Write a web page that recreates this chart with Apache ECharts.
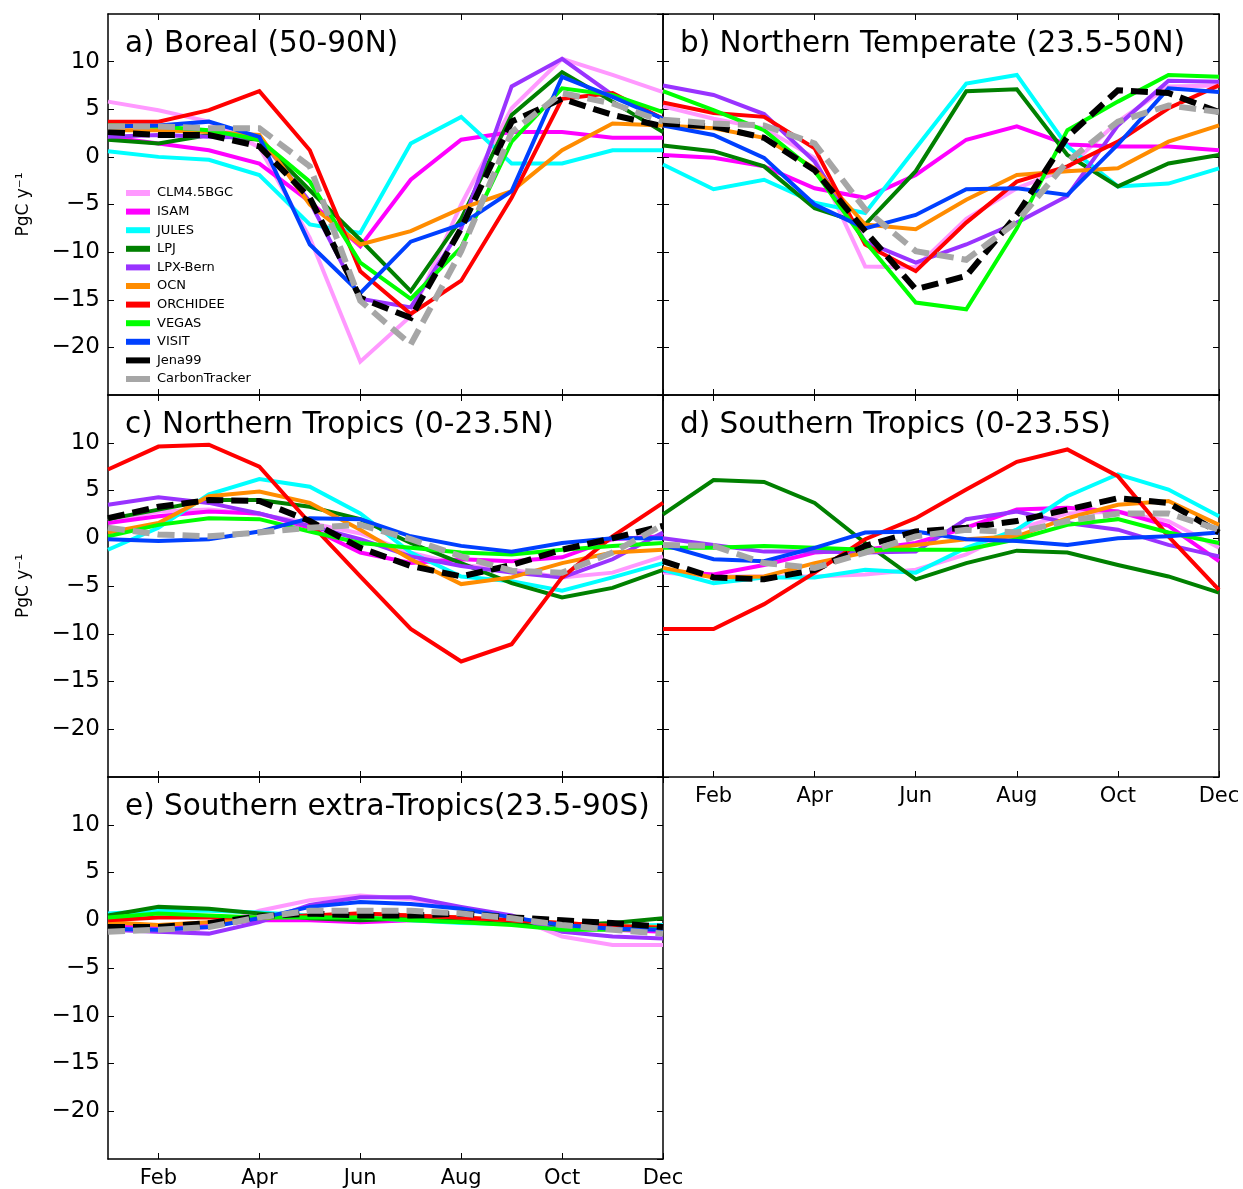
<!DOCTYPE html>
<html><head><meta charset="utf-8">
<script src="https://cdn.jsdelivr.net/npm/echarts@6/dist/echarts.min.js"></script>
<style>html,body{margin:0;padding:0;background:#fff}#c{width:1243px;height:1189px}</style>
</head><body><div id="c"></div>
<script>
const months = ['Jan','Feb','Mar','Apr','May','Jun','Jul','Aug','Sep','Oct','Nov','Dec'];
const models = ['CLM4.5BGC','ISAM','JULES','LPJ','LPX-Bern','OCN','ORCHIDEE','VEGAS','VISIT','Jena99','CarbonTracker'];
const panelTitles = ['a) Boreal (50-90N)','b) Northern Temperate (23.5-50N)','c) Northern Tropics (0-23.5N)','d) Southern Tropics (0-23.5S)','e) Southern extra-Tropics(23.5-90S)'];
const yTicks = [-25,-20,-15,-10,-5,0,5,10,15];

// a) Boreal
const a_CLM = [5.8, 4.9, 3.7, 1.0, -8.5, -21.5, -16.7, -5.0, 5.1, 10.3, 8.6, 6.8];
const a_ISAM = [2.1, 1.4, 0.7, -0.7, -4.7, -9.4, -2.4, 1.8, 2.6, 2.6, 2.0, 2.0];
const a_JULES = [0.6, 0.0, -0.3, -1.9, -7.1, -8.0, 1.4, 4.2, -0.7, -0.7, 0.7, 0.7];
const a_LPJ = [1.8, 1.4, 2.3, 1.8, -3.5, -8.7, -14.1, -6.5, 4.4, 8.9, 5.8, 2.6];
const a_LPX = [2.1, 2.3, 2.1, 2.0, -4.7, -14.9, -15.8, -7.5, 7.4, 10.3, 6.5, 4.0];
const a_OCN = [2.8, 2.8, 2.6, 2.3, -5.0, -9.2, -7.8, -5.4, -3.6, 0.7, 3.5, 3.3];
const a_ORC = [3.7, 3.7, 4.9, 6.9, 0.7, -12.0, -16.5, -13.0, -4.3, 6.1, 6.7, 4.0];
const a_VEGAS = [3.3, 3.2, 2.8, 1.8, -2.6, -11.1, -14.9, -9.5, 1.6, 7.2, 6.5, 4.7];
const a_VISIT = [3.2, 3.3, 3.7, 2.1, -9.2, -14.3, -8.9, -7.1, -3.6, 8.4, 6.3, 4.0];
const a_JENA = [2.6, 2.3, 2.3, 1.1, -4.3, -14.8, -16.9, -7.5, 3.7, 6.1, 4.4, 3.2];
const a_CT = [3.2, 3.2, 3.0, 3.0, -1.0, -15.1, -19.7, -9.9, 2.6, 6.7, 5.6, 3.7];

// b) Northern Temperate
const b_CLM = [5.3, 4.0, 3.0, -0.1, -11.5, -11.6, -6.5, -3.3, -1.2, 3.7, 7.4, 7.5];
const b_ISAM = [0.2, -0.1, -1.0, -3.3, -4.3, -1.9, 1.8, 3.2, 1.3, 1.1, 1.1, 0.7];
const b_JULES = [-0.8, -3.4, -2.4, -4.8, -5.9, 0.9, 7.7, 8.6, 1.1, -3.1, -2.8, -1.2];
const b_LPJ = [1.2, 0.6, -1.0, -5.4, -7.1, -1.5, 6.9, 7.1, 0.2, -3.1, -0.7, 0.2];
const b_LPX = [7.5, 6.5, 4.5, -0.5, -8.9, -11.1, -9.2, -6.9, -4.1, 3.3, 8.0, 7.9];
const b_OCN = [3.3, 3.0, 2.0, -1.2, -7.1, -7.6, -4.5, -1.9, -1.5, -1.2, 1.6, 3.3];
const b_ORC = [5.7, 4.6, 4.2, 0.9, -9.2, -12.0, -6.9, -2.6, -1.0, 1.6, 5.1, 7.5];
const b_VEGAS = [6.9, 4.9, 2.8, -1.5, -8.9, -15.3, -16.0, -7.5, 2.8, 5.8, 8.6, 8.4];
const b_VISIT = [3.3, 2.3, -0.1, -5.0, -7.5, -6.1, -3.4, -3.3, -4.0, 1.3, 7.2, 6.8];
const b_JENA = [3.5, 3.2, 2.0, -1.4, -7.8, -13.9, -12.5, -6.1, 2.1, 7.0, 6.7, 4.7];
const b_CT = [3.9, 3.5, 3.3, 1.4, -5.5, -9.9, -10.8, -6.8, -0.5, 3.7, 5.4, 4.7];

// c) Northern Tropics
const c_CLM = [1.8, 2.8, 3.0, 2.5, 1.6, 0.5, -1.5, -2.8, -3.3, -4.1, -3.6, -1.9];
const c_ISAM = [1.6, 2.3, 2.8, 2.6, 1.1, -1.5, -2.6, -2.2, -2.4, -2.0, -0.1, 0.2];
const c_JULES = [-1.2, 1.1, 4.6, 6.2, 5.4, 2.6, -1.5, -4.0, -4.5, -5.5, -4.1, -2.6];
const c_LPJ = [2.0, 3.0, 4.0, 4.0, 3.3, 2.0, -0.5, -2.6, -4.7, -6.2, -5.2, -3.3];
const c_LPX = [3.5, 4.3, 3.7, 2.6, 1.3, -0.1, -1.9, -2.9, -3.6, -4.1, -2.2, 0.6];
const c_OCN = [0.6, 1.6, 4.4, 4.9, 3.7, 0.9, -2.2, -4.8, -4.1, -2.6, -1.5, -1.2];
const c_ORC = [7.2, 9.6, 9.8, 7.5, 1.6, -4.0, -9.5, -12.9, -11.1, -4.1, 0.2, 3.7];
const c_VEGAS = [0.2, 1.4, 2.1, 2.0, 0.7, -0.5, -1.0, -1.5, -1.7, -1.2, -0.8, -0.5];
const c_VISIT = [-0.1, -0.3, -0.1, 0.7, 2.1, 2.0, 0.2, -0.8, -1.4, -0.5, 0.0, 0.0];
const c_JENA = [2.1, 3.3, 4.0, 3.9, 1.8, -1.0, -2.9, -4.0, -2.8, -1.2, 0.0, 1.3];
const c_CT = [1.1, 0.4, 0.2, 0.6, 1.1, 1.4, -0.1, -1.9, -3.4, -3.6, -1.5, 1.4];

// d) Southern Tropics
const d_CLM = [-3.6, -4.0, -4.0, -4.0, -3.8, -3.3, -1.7, 0.9, 2.6, 2.8, 1.8, -1.0];
const d_ISAM = [-3.4, -3.8, -2.8, -1.5, -1.2, -0.5, 1.1, 3.0, 3.2, 2.8, 1.3, -2.4];
const d_JULES = [-3.3, -4.7, -4.1, -4.1, -3.3, -3.6, -1.0, 0.9, 4.4, 6.7, 5.1, 2.3];
const d_LPJ = [2.5, 6.1, 5.9, 3.7, -0.5, -4.3, -2.6, -1.3, -1.5, -2.8, -4.0, -5.7];
const d_LPX = [0.0, -0.7, -1.4, -1.4, -1.5, -1.4, 2.0, 2.8, 1.6, 0.9, -0.7, -1.9];
const d_OCN = [-3.1, -4.1, -4.0, -2.6, -1.5, -0.7, -0.1, 0.2, 2.1, 3.5, 3.9, 1.4];
const d_ORC = [-9.5, -9.5, -6.9, -3.6, -0.1, 2.1, 5.1, 8.0, 9.3, 6.5, 0.2, -5.4];
const d_VEGAS = [-1.0, -1.0, -0.8, -1.0, -1.2, -1.2, -1.2, -0.1, 1.4, 2.0, 0.6, -0.5];
const d_VISIT = [-0.7, -2.2, -2.4, -1.0, 0.6, 0.7, -0.1, -0.3, -0.7, 0.0, 0.2, 0.6];
const d_JENA = [-2.4, -4.1, -4.3, -3.3, -0.8, 0.7, 1.1, 1.8, 3.0, 4.2, 3.7, 0.6];
const d_CT = [-0.7, -0.8, -2.6, -3.1, -1.5, 0.2, 0.9, 0.6, 1.8, 2.6, 2.6, 0.9];

// e) Southern extra-Tropics
const e_CLM = [-0.9, -1.2, -0.8, 1.0, 2.1, 2.6, 2.2, 1.3, 0.4, -1.7, -2.6, -2.6];
const e_ISAM = [-0.5, -0.6, -0.5, 0.0, 0.0, -0.2, 0.0, 0.0, -0.3, -0.8, -1.0, -1.2];
const e_JULES = [0.7, 1.0, 1.0, 0.8, 0.5, 0.3, 0.0, -0.3, -0.4, -0.6, -0.6, -0.5];
const e_LPJ = [0.5, 1.4, 1.2, 0.7, 0.2, 0.0, 0.2, 0.0, -0.3, -0.5, -0.3, 0.2];
const e_LPX = [-1.0, -1.2, -1.4, -0.2, 1.6, 2.4, 2.4, 1.4, 0.5, -1.2, -1.7, -1.9];
const e_OCN = [-0.2, -0.5, -0.2, 0.2, 0.5, 0.7, 0.5, 0.3, 0.0, -0.3, -0.6, -0.7];
const e_ORC = [0.0, 0.3, 0.3, 0.3, 0.5, 0.7, 0.5, 0.3, 0.0, -0.3, -0.6, -0.8];
const e_VEGAS = [0.3, 0.7, 0.5, 0.3, 0.3, 0.3, 0.0, -0.2, -0.5, -1.0, -1.0, -0.9];
const e_VISIT = [-0.9, -1.0, -0.7, 0.2, 1.4, 1.9, 1.7, 1.2, 0.3, -0.5, -0.9, -1.0];
const e_JENA = [-0.7, -0.7, -0.3, 0.4, 0.7, 0.5, 0.5, 0.7, 0.3, 0.0, -0.3, -0.7];
const e_CT = [-1.2, -1.0, -0.7, 0.3, 1.0, 1.0, 1.0, 0.7, 0.2, -0.5, -1.0, -1.4];

const panelData = [
  [a_CLM,a_ISAM,a_JULES,a_LPJ,a_LPX,a_OCN,a_ORC,a_VEGAS,a_VISIT,a_JENA,a_CT],
  [b_CLM,b_ISAM,b_JULES,b_LPJ,b_LPX,b_OCN,b_ORC,b_VEGAS,b_VISIT,b_JENA,b_CT],
  [c_CLM,c_ISAM,c_JULES,c_LPJ,c_LPX,c_OCN,c_ORC,c_VEGAS,c_VISIT,c_JENA,c_CT],
  [d_CLM,d_ISAM,d_JULES,d_LPJ,d_LPX,d_OCN,d_ORC,d_VEGAS,d_VISIT,d_JENA,d_CT],
  [e_CLM,e_ISAM,e_JULES,e_LPJ,e_LPX,e_OCN,e_ORC,e_VEGAS,e_VISIT,e_JENA,e_CT]
];

const colors = ['#ff99ff','#ff00ff','#00ffff','#008000','#9933ff','#ff8c00','#ff0000','#00ff00','#0040ff','#000000','#a6a6a6'];
const FONT = 'DejaVu Sans';

const grids = [
  {left:108, top:14, width:555, height:381},
  {left:663, top:14, width:556, height:381},
  {left:108, top:395, width:555, height:382},
  {left:663, top:395, width:556, height:382},
  {left:108, top:777, width:555, height:382}
];
const showXLabels = [false,false,false,true,true];
const showYLabels = [true,false,true,false,true];
const showYName = [true,false,true,false,false];

const axisLine = {show:true, onZero:false, lineStyle:{color:'#000', width:1.5}};
const tickEven = (i) => i % 2 === 1;
const xAxes = [], yAxes = [], series = [], titles = [];
grids.forEach((g, p) => {
  ['bottom','top'].forEach((pos, k) => {
    xAxes.push({
      gridIndex:p, type:'category', data:months, boundaryGap:false, position:pos,
      axisLine: axisLine,
      axisTick:{show:true, inside:true, length:6, interval:tickEven, lineStyle:{color:'#000', width:1}},
      axisLabel:{show: k===0 && showXLabels[p], interval:tickEven, margin:9, color:'#000', fontFamily:FONT, fontSize:21},
      splitLine:{show:false}
    });
  });
  ['left','right'].forEach((pos, k) => {
    yAxes.push({
      gridIndex:p, type:'value', min:-25, max:15, interval:5, position:pos,
      name: (k===0 && showYName[p]) ? 'PgC y\u207B\u00B9' : '',
      nameLocation:'middle', nameRotate:90, nameGap:76,
      nameTextStyle:{color:'#000', fontFamily:FONT, fontSize:17},
      axisLine: axisLine,
      axisTick:{show:true, inside:true, length:6, lineStyle:{color:'#000', width:1}},
      axisLabel:{show: k===0 && showYLabels[p], margin:8, color:'#000', fontFamily:FONT, fontSize:23,
        showMinLabel:false, showMaxLabel:false,
        formatter:(v) => (v === -25 || v === 15) ? '' : String(v).replace('-', '\u2212')},
      splitLine:{show:false}
    });
  });
  titles.push({
    text: panelTitles[p], left: g.left + 12, top: g.top + 10,
    textStyle:{color:'#000', fontFamily:FONT, fontSize:29.5, fontWeight:'normal'}
  });
  models.forEach((m, i) => {
    const dashed = i >= 9;
    series.push({
      name:m, type:'line', xAxisIndex:2*p, yAxisIndex:2*p, data:panelData[p][i],
      symbol:'none', color:colors[i], animation:false, z: 2 + i,
      lineStyle:{color:colors[i], width: dashed ? 6 : 4, type: dashed ? [17, 8] : 'solid', cap:'butt', join:'miter'}
    });
  });
});

const chart = echarts.init(document.getElementById('c'), null, {renderer:'canvas'});
chart.setOption({
  backgroundColor:'#fff',
  animation:false,
  title: titles,
  grid: grids,
  xAxis: xAxes,
  yAxis: yAxes,
  legend: {
    data: models, orient:'vertical', left:121, top:181,
    icon:'rect', itemWidth:24, itemHeight:6, itemGap:4.6, selectedMode:false,
    textStyle:{color:'#000', fontFamily:FONT, fontSize:13, lineHeight:14, padding:[0,0,0,2]}
  },
  series: series
});
</script></body></html>
